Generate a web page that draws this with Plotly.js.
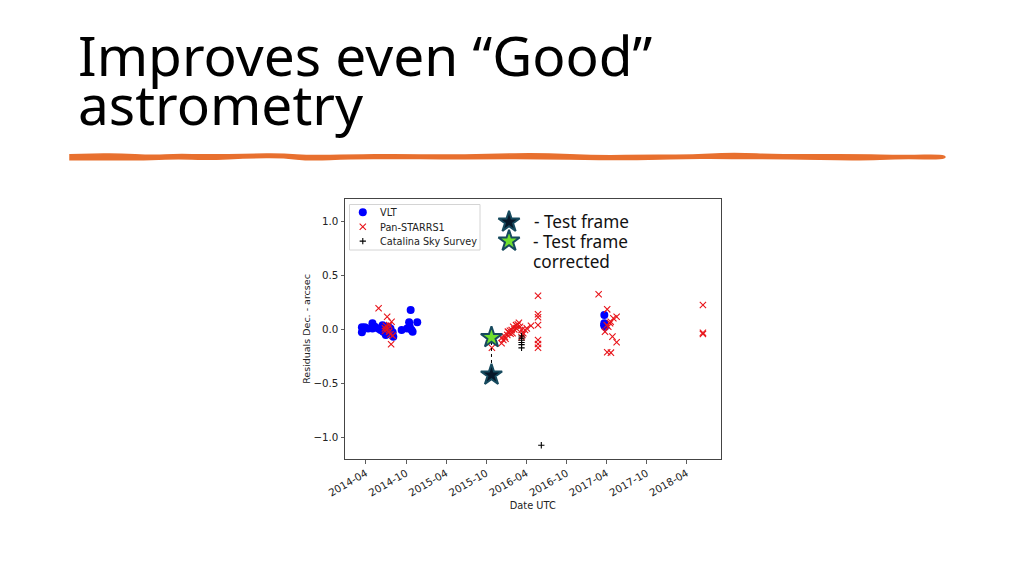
<!DOCTYPE html>
<html>
<head>
<meta charset="utf-8">
<script src="https://cdn.plot.ly/plotly-3.0.1.min.js"></script>
<style>
html, body { margin: 0; padding: 0; background: #fff; }
#plot { width: 1024px; height: 575px; }
</style>
</head>
<body>
<div id="plot"></div>
<script>
const vltDates = ['2014-03-14','2014-03-14','2014-03-27','2014-04-11','2014-05-01','2014-05-01','2014-05-12','2014-05-27',
    '2014-06-07','2014-06-16','2014-06-19','2014-07-01','2014-07-12','2014-07-22','2014-08-01','2014-08-04',
    '2014-09-11','2014-10-06','2014-10-22','2014-10-15','2014-10-18','2014-10-26','2014-11-21','2014-10-31',
    '2017-03-22','2017-03-22','2017-03-25','2017-03-21'];
const vltValues = [0.02,-0.026,0.02,0.01,0.057,0.01,0.026,0.01,
    -0.005,0.04,-0.02,-0.05,0.026,0.01,-0.026,-0.066,
    -0.005,0.01,0.18,0.066,0.026,-0.005,0.066,-0.02,
    0.134,0.057,0.026,0.04];

const panDates = ['2014-05-29','2014-07-07','2014-07-27','2014-07-01','2014-07-16','2014-06-27','2014-07-12','2014-06-27',
    '2014-07-16','2014-07-22','2014-08-01','2014-07-25',
    '2015-10-27','2015-12-10','2015-12-18','2015-12-25','2016-01-05','2016-01-14','2016-01-25','2016-02-01',
    '2016-02-14','2016-02-27','2016-01-17','2016-01-29','2016-02-16','2016-03-03','2016-03-10','2016-03-18',
    '2016-03-10','2016-03-26','2016-04-22','2016-04-03',
    '2015-12-12','2015-12-28','2016-01-08','2016-01-20','2016-02-06','2016-02-22','2016-03-14',
    '2016-05-24','2016-05-24','2016-05-24','2016-05-24','2016-05-24','2016-05-24','2016-05-24',
    '2017-02-24','2017-04-04','2017-05-17','2017-05-02','2017-04-20','2017-04-17','2017-04-09','2017-04-02',
    '2017-03-25','2017-04-28','2017-05-17','2017-04-04','2017-04-21',
    '2018-06-14','2018-06-14','2018-06-14'];
const panValues = [0.196,0.118,0.072,0.035,0.04,0.01,0.01,-0.014,
    -0.02,-0.044,-0.057,-0.137,
    -0.168,-0.127,-0.097,-0.066,-0.05,-0.03,-0.005,0.026,
    0.04,0.063,-0.011,-0.035,0.01,0.026,-0.005,-0.035,
    -0.072,-0.005,0.035,0.01,
    -0.075,-0.085,-0.02,-0.04,0.0,0.045,-0.05,
    0.312,0.14,0.113,0.042,-0.097,-0.134,-0.168,
    0.325,0.186,0.118,0.103,0.072,0.057,0.026,0.04,
    -0.02,-0.066,-0.118,-0.21,-0.214,
    0.226,-0.03,-0.042];

const cssDates = ['2016-03-10','2016-03-10','2016-03-10','2016-03-10','2016-03-10','2016-03-10','2016-06-08'];
const cssValues = [-0.06,-0.08,-0.1,-0.12,-0.14,-0.17,-1.069];

const frameDates = ['2015-10-25'];
const frameValue = [-0.42];
const correctedValue = [-0.074];

// stars next to the two text notes
const keyDates = ['2016-01-13'];
const keyFrameValue = [0.993];
const keyCorrectedValue = [0.817];

// legend samples, plotly's own legend rows are too tall for this one
const legendDates = ['2014-03-18'];
const legendValues = [1.083, 0.949, 0.816];
const legendNames = ['VLT', 'Pan-STARRS1', 'Catalina Sky Survey'];

const tickLabels = ['2014-04','2014-10','2015-04','2015-10','2016-04','2016-10','2017-04','2017-10','2018-04'];

const W = 1024;
const H = 575;
const px = (x) => x / W;
const py = (y) => 1 - y / H;

// brush stroke under the heading: [x, y, thickness] in page pixels
const brush = [[70,157.3,5],[90,157,5.5],[117,156.7,6],[153,157.7,4],[177,156.3,4],[207,157.3,4.5],[250,156,3.5],[283,155.7,3.5],
    [310,158.2,4.5],[350,156.7,3.5],[400,156.5,4],[440,157,3.5],[490,156.5,4],[540,156,5],[600,157.8,3.5],[650,157.3,4.5],
    [690,156.7,2.5],[730,155.7,5.5],[783,156.7,3.5],[857,157.3,5.5],[903,157,2.5],[945,157,4.5]];

function brushPath() {
    const top = brush.map((p) => [p[0], p[1] - p[2] / 2]);
    const bottom = brush.map((p) => [p[0], p[1] + p[2] / 2]).reverse();
    const outline = top.concat(bottom).map((p) => [px(p[0]), py(p[1])]);
    let path = 'M' + outline[0].join(',');
    for (let i = 1; i < outline.length - 1; i++) {
        const mid = [(outline[i][0] + outline[i + 1][0]) / 2, (outline[i][1] + outline[i + 1][1]) / 2];
        path += ' Q' + outline[i].join(',') + ' ' + mid.join(',');
    }
    return path + ' L' + outline[outline.length - 1].join(',') + ' Z';
}

const dejavu = 'DejaVu Sans, sans-serif';
const noto = 'Noto Sans, sans-serif';
const ink = '#222';
const red = '#e8141a';

const blueDot = { color: '#0000ff', size: 8 };
const redCross = { symbol: 'x-thin-open', size: 6.3, color: red, line: { color: red, width: 1.1 } };
const blackPlus = { symbol: 'cross-thin-open', size: 4.5, color: '#000', line: { color: '#000', width: 1.1 } };
const darkStar = { symbol: 'star', size: 16, color: '#07182a', line: { color: '#174a5e', width: 2 } };
const greenStar = { symbol: 'star', size: 16, color: '#70e02e', line: { color: '#174a5e', width: 2 } };

function points(x, y, name, marker) {
    return { x, y, name, mode: 'markers', type: 'scatter', showlegend: false, marker };
}

const traces = [
    points(vltDates, vltValues, legendNames[0], blueDot),
    points(panDates, panValues, legendNames[1], redCross),
    points(cssDates, cssValues, legendNames[2], blackPlus),
    { x: frameDates.concat(frameDates), y: frameValue.concat(correctedValue), mode: 'lines', type: 'scatter',
      showlegend: false, hoverinfo: 'skip', line: { color: '#000', width: 1, dash: '3px,3px' } },
    points(frameDates, frameValue, 'Test frame', darkStar),
    points(frameDates, correctedValue, 'Test frame corrected', greenStar),
    points(keyDates, keyFrameValue, 'Test frame', darkStar),
    points(keyDates, keyCorrectedValue, 'Test frame corrected', greenStar),
    points(legendDates, [legendValues[0]], legendNames[0], blueDot),
    points(legendDates, [legendValues[1]], legendNames[1], redCross),
    points(legendDates, [legendValues[2]], legendNames[2], blackPlus)
];

function note(text, x, y, font) {
    return { text, xref: 'paper', yref: 'paper', x: px(x), y: py(y), xanchor: 'left', yanchor: 'middle',
        showarrow: false, align: 'left', font, borderpad: 0, borderwidth: 0 };
}

const legendFont = { family: dejavu, size: 9.7, color: ink };
const noteFont = { family: noto, size: 17.2, color: '#111' };

const layout = {
    width: W,
    height: H,
    margin: { l: 0, r: 0, t: 0, b: 0 },
    paper_bgcolor: '#fff',
    plot_bgcolor: '#fff',
    showlegend: false,
    title: { text: 'Improves even “Good”', xref: 'paper', yref: 'paper', x: px(78), y: py(57),
        xanchor: 'left', yanchor: 'middle', font: { family: noto, size: 55, color: '#000' } },
    xaxis: {
        domain: [px(345), px(720.5)],
        type: 'date',
        range: ['2013-12-27', '2018-09-02'],
        tickmode: 'array',
        tickvals: tickLabels.map((t) => t + '-01'),
        ticktext: tickLabels,
        tickangle: -30,
        ticks: 'outside', ticklen: 3.5, tickwidth: 0.8, tickcolor: '#333',
        showgrid: false, zeroline: false,
        showline: true, mirror: true, linecolor: '#444', linewidth: 1,
        tickfont: { family: dejavu, size: 10.3, color: ink },
        title: { text: 'Date UTC', standoff: 4, font: { family: dejavu, size: 9.8, color: ink } }
    },
    yaxis: {
        domain: [py(459), py(199)],
        range: [-1.196, 1.205],
        tickvals: [-1, -0.5, 0, 0.5, 1],
        tickformat: '.1f',
        ticks: 'outside', ticklen: 3.5, tickwidth: 0.8, tickcolor: '#333',
        showgrid: false, zeroline: false,
        showline: true, mirror: true, linecolor: '#444', linewidth: 1,
        tickfont: { family: dejavu, size: 10.3, color: ink },
        title: { text: 'Residuals Dec. - arcsec', standoff: 1, font: { family: dejavu, size: 9.5, color: ink } }
    },
    shapes: [
        { type: 'path', xref: 'paper', yref: 'paper', path: brushPath(), fillcolor: '#e8702f',
          line: { color: '#e8702f', width: 1.5 }, layer: 'above' },
        { type: 'rect', xref: 'paper', yref: 'paper', x0: px(349.5), x1: px(480), y0: py(204.5), y1: py(250),
          fillcolor: 'rgba(255,255,255,0.8)', line: { color: '#d4d4d4', width: 1 }, layer: 'below' }
    ],
    annotations: [
        note('astrometry', 78, 104, { family: noto, size: 55, color: '#000' }),
        note('- Test frame', 533.5, 222, noteFont),
        note('- Test frame', 532.5, 241, noteFont),
        note('corrected', 532.5, 261, noteFont),
        note(legendNames[0], 380, 212.3, legendFont),
        note(legendNames[1], 380, 227, legendFont),
        note(legendNames[2], 380, 241.3, legendFont)
    ]
};

Plotly.newPlot('plot', traces, layout, { displayModeBar: false, staticPlot: true });
</script>
</body>
</html>
